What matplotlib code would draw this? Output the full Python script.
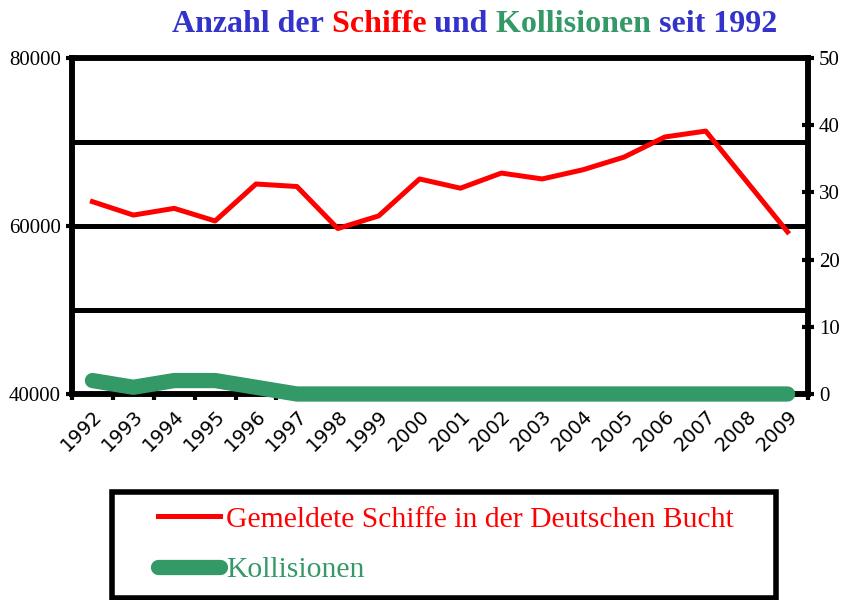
import matplotlib
matplotlib.use("Agg")
import matplotlib.pyplot as plt
from matplotlib.lines import Line2D
from matplotlib.patches import Rectangle

years = ["1992", "1993", "1994", "1995", "1996", "1997", "1998", "1999", "2000",
         "2001", "2002", "2003", "2004", "2005", "2006", "2007", "2008", "2009"]
ships = [62900, 61300, 62100, 60600, 65000, 64700, 59700, 61200, 65600,
         64500, 66300, 65600, 66700, 68200, 70600, 71300, 65300, 59300]
collisions = [2, 1, 2, 2, 1, 0, 0, 0, 0, 0, 0, 0, 0, 0, 0, 0, 0, 0]

RED = "#FF0000"
GREEN = "#339966"
BLUE = "#3333CC"
SERIF = "Liberation Serif"

fig = plt.figure(figsize=(8.48, 6), dpi=100)
ax = fig.add_axes([72 / 848, 1 - 394 / 600, 736 / 848, 336 / 600])
ax2 = ax.twinx()

x = list(range(len(years)))
ax.plot(x, ships, color=RED, lw=3.6, zorder=3)
ax.set_ylim(40000, 80000)
ax.set_xlim(-0.5, len(years) - 0.5)
for g in [50000, 60000, 70000]:
    ax.axhline(g, color="black", lw=3.6, zorder=2)

ax2.plot(x, collisions, color=GREEN, lw=11, solid_capstyle="round",
         clip_on=False, zorder=5)
ax2.set_ylim(0, 50)
ax2.set_yticks(range(0, 51, 10))

for a in (ax, ax2):
    for s in a.spines.values():
        s.set_linewidth(4)
        s.set_color("black")

ax.set_yticks([40000, 60000, 80000])
ax.set_xticks(x)
ax.set_xticklabels(years, rotation=45, ha="right", va="top",
                   rotation_mode="anchor", fontsize=14, family="DejaVu Sans")
ax.set_xticks([i - 0.5 for i in range(len(years) + 1)], minor=True)
ax.tick_params(axis="x", which="major", length=0, pad=9)
ax.tick_params(axis="x", which="minor", direction="out", length=4, width=3)
ax.tick_params(axis="y", direction="out", length=4, width=3, pad=4)
ax2.tick_params(axis="y", direction="inout", length=8, width=3, pad=4)
for lab in ax.get_yticklabels() + ax2.get_yticklabels():
    lab.set_fontfamily(SERIF)
    lab.set_fontsize(15)

# title in several colours
parts = [("Anzahl der", BLUE), (" Schiffe", RED), (" und", BLUE),
         (" Kollisionen", GREEN), (" seit 1992", BLUE)]
prev = fig.text(172 / 848, 1 - 32 / 600, parts[0][0], color=parts[0][1],
                fontsize=23, fontweight="bold", family=SERIF, va="baseline")
for txt, col in parts[1:]:
    prev = ax.annotate(txt, xy=(1, 0), xycoords=prev, va="bottom", ha="left",
                       color=col, fontsize=23, fontweight="bold", family=SERIF,
                       annotation_clip=False)

# legend box
fig.patches.append(Rectangle((112 / 848, 2 / 600), 664 / 848, 106 / 600,
                             transform=fig.transFigure, fill=False,
                             edgecolor="black", lw=4))
handles = [Line2D([], [], color=RED, lw=3.6),
           Line2D([], [], color=GREEN, lw=11, solid_capstyle="round")]
leg = fig.legend(handles, ["Gemeldete Schiffe in der Deutschen Bucht", "Kollisionen"],
                 loc="upper left", bbox_to_anchor=(158 / 848, 1 - 506 / 600),
                 frameon=False, borderpad=0, borderaxespad=0,
                 handlelength=2.1, handletextpad=0.2, labelspacing=0.8,
                 prop={"family": SERIF, "size": 21.3})
for t, c in zip(leg.get_texts(), [RED, GREEN]):
    t.set_color(c)

fig.savefig("out.png", dpi=100)
